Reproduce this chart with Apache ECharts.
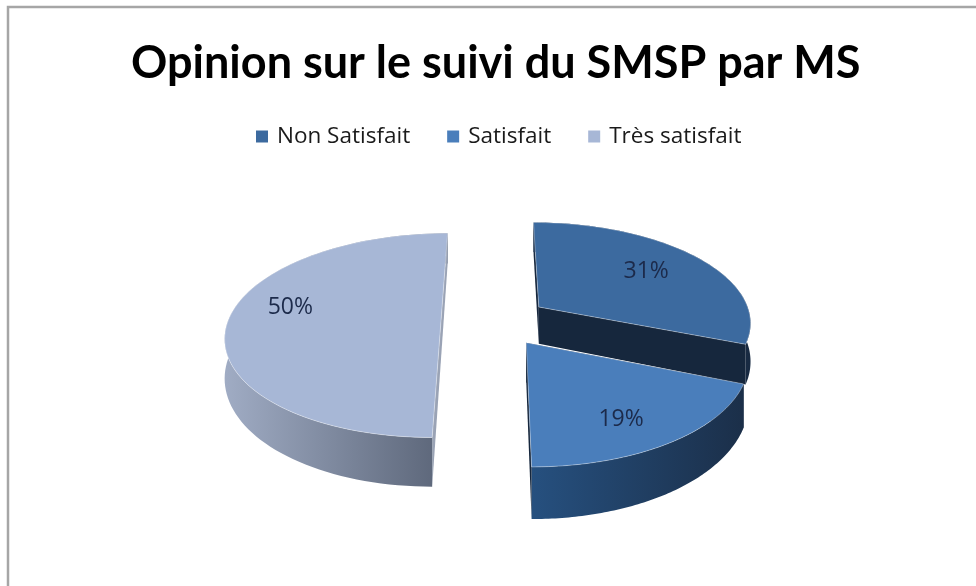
<!DOCTYPE html>
<html><head><meta charset="utf-8">
<style>html,body{margin:0;padding:0;background:#fff}#c{width:976px;height:586px}</style>
<script src="https://cdn.jsdelivr.net/npm/echarts@6/dist/echarts.min.js"></script>
</head><body><div id="c"></div>
<script>
const categories = ['Non Satisfait', 'Satisfait', 'Très satisfait'];
const percents = [31, 19, 50];
const titleText = 'Opinion sur le suivi du SMSP par MS';

const topColors = ['#3c6a9f', '#4a7ebb', '#a7b7d6'];
const wallColors = [['#1c3350', '#182a42'], ['#26507f', '#1b2f49'], ['#a0acc4', '#5a6477']];
const edgeColors = ['#16273d', '#16273d', '#9aa3b5'];
// best-fit label placement: fraction of radius and angle (deg) for each slice
const labelRadius = [0.675, 0.755, 0.74];
const labelAngle = [55, 150, 281];

// projection of the exploded pie
const CX = 495, CY = 321, R = 213, TILT = 0.47, PERSP = 0.00066, DEPTH = 38, EXPLODE = 54;
const total = percents.reduce((a, b) => a + b, 0);
const starts = percents.map((_, i) => percents.slice(0, i).reduce((a, b) => a + b, 0) / total * Math.PI * 2);

function project(X, V, down) {
  const s = 1 / (1 + PERSP * V);
  return [CX + X * s, CY - V * TILT * s + (down ? DEPTH * Math.pow(s, 1.7) : 0)];
}

function renderSlice(i) {
  return function (params, api) {
    const val = api.value(0);
    const a0 = starts[i], a1 = a0 + val / total * Math.PI * 2, mid = (a0 + a1) / 2;
    const ox = Math.sin(mid) * EXPLODE, ov = Math.cos(mid) * EXPLODE;
    const at = (ang, r, down) => project(ox + Math.sin(ang) * r, ov + Math.cos(ang) * r, down);
    const arcTop = [], arcBot = [];
    const N = 90;
    for (let k = 0; k <= N; k++) {
      const t = a0 + (a1 - a0) * k / N;
      arcTop.push(at(t, R, false));
      arcBot.push(at(t, R, true));
    }
    const apexT = at(0, 0, false), apexB = at(0, 0, true);
    const wallFill = {
      type: 'linear', x: 0, y: 0, x2: 1, y2: 0,
      colorStops: [{ offset: 0, color: wallColors[i][0] }, { offset: 1, color: wallColors[i][1] }]
    };
    const children = [];
    // start face, rim, end face
    children.push({ type: 'polygon', shape: { points: [apexT, arcTop[0], arcBot[0], apexB] }, style: { fill: edgeColors[i] } });
    children.push({ type: 'polygon', shape: { points: arcTop.concat(arcBot.slice().reverse()) }, style: { fill: wallFill } });
    children.push({ type: 'polygon', shape: { points: [apexT, arcTop[N], arcBot[N], apexB] }, style: { fill: edgeColors[i] } });
    // top face
    children.push({
      type: 'polygon', shape: { points: [apexT].concat(arcTop) },
      style: { fill: topColors[i], stroke: 'rgba(255,255,255,0.35)', lineWidth: 1 }
    });
    const la = labelAngle[i] * Math.PI / 180;
    const p = at(la, labelRadius[i] * R, false);
    children.push({
      type: 'text',
      style: {
        x: p[0], y: p[1], text: val + '%', fill: '#1c2a4a',
        font: '23px "Open Sans", sans-serif', align: 'center', verticalAlign: 'middle'
      }
    });
    return { type: 'group', children };
  };
}

const chart = echarts.init(document.getElementById('c'), null, { renderer: 'canvas' });
chart.setOption({
  animation: false,
  backgroundColor: '#ffffff',
  title: {
    text: titleText, left: 126, top: 36,
    textStyle: { fontFamily: 'Lato', fontWeight: 'bold', fontSize: 45, color: '#000' }
  },
  legend: {
    left: 251, top: 120, itemWidth: 12, itemHeight: 12, itemGap: 37, icon: 'rect',
    data: categories,
    textStyle: { fontFamily: '"Open Sans"', fontSize: 22.5, color: '#1a1a1a', padding: [0, 0, 0, 4] }
  },
  graphic: [{
    type: 'polyline', silent: true,
    shape: { points: [[8, 586], [8, 7], [976, 7]] },
    style: { stroke: '#a6a6a6', lineWidth: 2.5, fill: null }
  }],
  series: categories.map((name, i) => ({
    type: 'custom', name, coordinateSystem: 'none',
    z: [2, 3, 1][i],
    itemStyle: { color: topColors[i] },
    renderItem: renderSlice(i),
    data: [[percents[i]]]
  }))
});
</script></body></html>
